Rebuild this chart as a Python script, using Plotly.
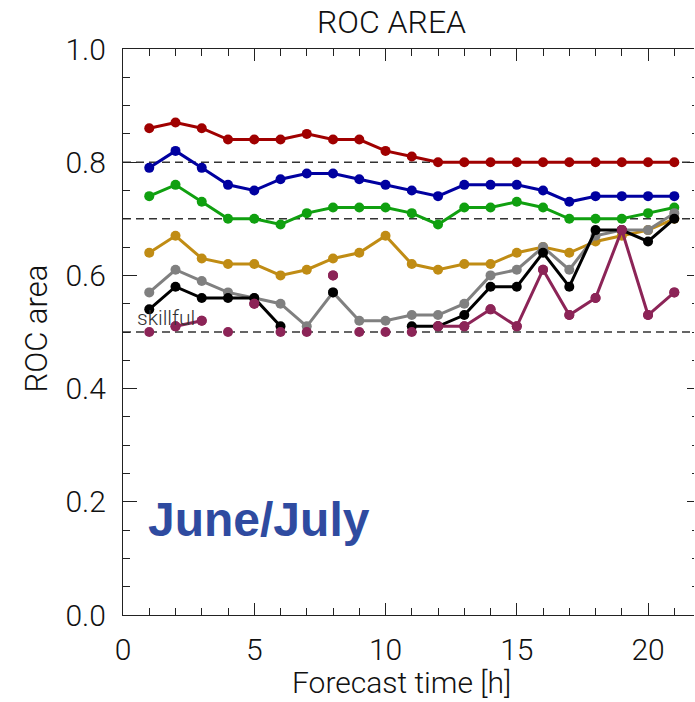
import plotly.graph_objects as go

hours = list(range(1, 22))
red = [0.86, 0.87, 0.86, 0.84, 0.84, 0.84, 0.85, 0.84, 0.84, 0.82, 0.81,
       0.80, 0.80, 0.80, 0.80, 0.80, 0.80, 0.80, 0.80, 0.80, 0.80]
blue = [0.79, 0.82, 0.79, 0.76, 0.75, 0.77, 0.78, 0.78, 0.77, 0.76, 0.75,
        0.74, 0.76, 0.76, 0.76, 0.75, 0.73, 0.74, 0.74, 0.74, 0.74]
green = [0.74, 0.76, 0.73, 0.70, 0.70, 0.69, 0.71, 0.72, 0.72, 0.72, 0.71,
         0.69, 0.72, 0.72, 0.73, 0.72, 0.70, 0.70, 0.70, 0.71, 0.72]
gold = [0.64, 0.67, 0.63, 0.62, 0.62, 0.60, 0.61, 0.63, 0.64, 0.67, 0.62,
        0.61, 0.62, 0.62, 0.64, 0.65, 0.64, 0.66, 0.67, 0.68, 0.70]
gray = [0.57, 0.61, 0.59, 0.57, 0.56, 0.55, 0.51, 0.57, 0.52, 0.52, 0.53,
        0.53, 0.55, 0.60, 0.61, 0.65, 0.61, 0.67, 0.68, 0.68, 0.71]
black = [0.54, 0.58, 0.56, 0.56, 0.56, 0.51, None, 0.57, None, None, 0.51,
         0.51, 0.53, 0.58, 0.58, 0.64, 0.58, 0.68, 0.68, 0.66, 0.70]
magenta = [0.50, 0.51, 0.52, 0.50, 0.55, 0.50, 0.50, 0.60, 0.50, 0.50, 0.50,
           0.51, 0.51, 0.54, 0.51, 0.61, 0.53, 0.56, 0.68, 0.53, 0.57]
ref_lines = [0.5, 0.7, 0.8]
skill_level = 0.5

x_ticks = [0, 5, 10, 15, 20]
y_ticks = [0.0, 0.2, 0.4, 0.6, 0.8, 1.0]
y_tick_text = ["0.0", "0.2", "0.4", "0.6", "0.8", "1.0"]

series = [
    (red, "#A00000"),
    (blue, "#0000A0"),
    (green, "#10A010"),
    (gold, "#C08C14"),
    (gray, "#808080"),
    (black, "#000000"),
]

fig = go.Figure()

for yv in ref_lines:
    fig.add_shape(type="line", xref="x domain", yref="y", x0=0, x1=1, y0=yv, y1=yv,
                  line=dict(color="#333333", width=1.5, dash="8px,5px"), layer="below")

msize = 10
for vals, col in series:
    fig.add_trace(go.Scatter(x=hours, y=vals, mode="lines+markers",
                             line=dict(color=col, width=3),
                             marker=dict(color=col, size=msize),
                             connectgaps=False, showlegend=False))

mag_col = "#8C2457"
mag_line = [v if v > skill_level else None for v in magenta]
fig.add_trace(go.Scatter(x=hours, y=mag_line, mode="lines+markers",
                         line=dict(color=mag_col, width=3),
                         marker=dict(color=mag_col, size=msize),
                         connectgaps=False, showlegend=False))
fig.add_trace(go.Scatter(x=hours, y=magenta, mode="markers",
                         marker=dict(color=mag_col, size=msize), showlegend=False))

font_main = "Roboto"
fw = 300
txt_col = "#111111"

fig.update_layout(
    width=695, height=702,
    margin=dict(l=123, r=1, t=49, b=87),
    paper_bgcolor="white", plot_bgcolor="white",
    font=dict(family=font_main, color=txt_col, weight=fw),
    xaxis=dict(range=[0, 21.75], showgrid=False, zeroline=False,
               showline=True, linecolor="#222222", linewidth=1.3, mirror="ticks",
               tickmode="array", tickvals=x_ticks, ticktext=[str(t) for t in x_ticks],
               ticks="inside", ticklen=12, tickwidth=1.3, tickcolor="#222222",
               minor=dict(dtick=1, ticks="inside", ticklen=7, tickwidth=1.2, tickcolor="#222222"),
               tickfont=dict(size=30, family=font_main, color=txt_col, weight=fw),
               ticklabelstandoff=8),
    yaxis=dict(range=[0, 1], showgrid=False, zeroline=False,
               showline=True, linecolor="#222222", linewidth=1.3,
               tickmode="array", tickvals=y_ticks, ticktext=y_tick_text,
               ticks="inside", ticklen=14, tickwidth=1.3, tickcolor="#222222",
               minor=dict(dtick=0.05, ticks="inside", ticklen=7, tickwidth=1.2, tickcolor="#222222"),
               tickfont=dict(size=30, family=font_main, color=txt_col, weight=fw),
               ticklabelstandoff=10),
    yaxis2=dict(range=[0, 1], overlaying="y", side="right", showgrid=False, zeroline=False,
                showline=False, tickmode="array", tickvals=y_ticks, showticklabels=False,
                ticks="inside", ticklen=7, tickwidth=1.3, tickcolor="#222222",
                minor=dict(dtick=0.05, ticks="inside", ticklen=2, tickwidth=1.2, tickcolor="#222222")),
)
fig.add_trace(go.Scatter(x=[None], y=[None], yaxis="y2", showlegend=False, hoverinfo="skip"))

fig.add_annotation(text="ROC AREA", xref="paper", yref="paper", x=(391 - 123) / 571,
                   y=1 + (49 - 21.5) / 566, xanchor="center", yanchor="middle",
                   showarrow=False, font=dict(size=32, family=font_main, color=txt_col, weight=fw))
fig.add_annotation(text="Forecast time [h]", xref="paper", yref="paper", x=(401 - 123) / 571,
                   y=-(682 - 615) / 566, xanchor="center", yanchor="middle",
                   showarrow=False, font=dict(size=30, family=font_main, color=txt_col, weight=fw))
fig.add_annotation(text="ROC area", xref="paper", yref="paper", x=-(123 - 35.5) / 571,
                   y=(615 - 329) / 566, xanchor="center", yanchor="middle", textangle=-90,
                   showarrow=False, font=dict(size=31, family=font_main, color=txt_col, weight=fw))
fig.add_annotation(text="skillful", xref="x", yref="y", x=0.45, y=0.524,
                   xanchor="left", yanchor="middle", showarrow=False,
                   font=dict(size=21, family=font_main, color="#333333", weight=fw))
fig.add_annotation(text="<b>June/July</b>", xref="x", yref="y", x=0.88, y=0.168,
                   xanchor="left", yanchor="middle", showarrow=False,
                   font=dict(size=48, family="Liberation Sans", color="#2F4BA0"))

fig.write_html("out.html")
